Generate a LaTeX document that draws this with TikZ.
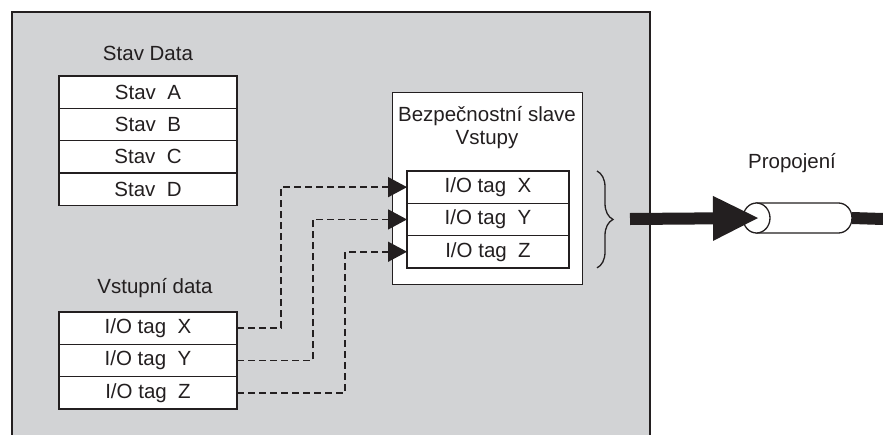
\documentclass[tikz,border=0pt]{standalone}
\usepackage{fontspec}
\setmainfont{Liberation Sans}
\usetikzlibrary{arrows.meta,positioning,shapes.geometric,decorations.pathreplacing}
\definecolor{panelgray}{RGB}{210,211,213}
\definecolor{ink}{RGB}{35,31,32}

\begin{document}
\begin{tikzpicture}[x=1pt, y=-1pt,
          cell/.style={draw=ink, fill=white, line width=1.3pt,
                      minimum width=178pt, minimum height=32.3pt,
                      inner sep=0pt, outer sep=0pt, text=ink,
                      font=\fontsize{20.5}{24}\selectfont},
          tagcell/.style={cell, minimum width=162pt},
          title/.style={text=ink, align=center, inner sep=0pt,
                      font=\fontsize{20.5}{23}\selectfont},
          link/.style={ink, line width=1.5pt, dash pattern=on 7pt off 4pt,
                      -{Triangle[length=19pt, width=20pt]}},
          bigarr/.style={ink, line width=12pt,
                      -{Triangle[length=45pt, width=45pt, line width=0pt]}},
          cable/.style={ink, line width=12pt},
          brace/.style={decorate, decoration={brace, amplitude=16pt},
                      ink, line width=1.3pt},
          plugline/.style={draw=ink, fill=white, line width=1.3pt}
        ]
          \useasboundingbox (0,0) rectangle (883,434);
          \draw[ink, line width=1.5pt, fill=panelgray] (12,12) rectangle (650,460);

          % status table
          \node[title] (stavtitle) at (148,53) {Stav Data};
          \node[cell, anchor=north] (stavA) at (148,76) {Stav~ A};
          \node[cell, below=0pt of stavA] (stavB) {Stav~ B};
          \node[cell, below=0pt of stavB] (stavC) {Stav~ C};
          \node[cell, below=0pt of stavC] (stavD) {Stav~ D};

          % input data table
          \node[title] (intitle) at (155,288) {Vstupní data};
          \node[cell, anchor=north] (inX) at (148,312) {I/O tag~ X};
          \node[cell, below=0pt of inX] (inY) {I/O tag~ Y};
          \node[cell, below=0pt of inY] (inZ) {I/O tag~ Z};

          % safety slave
          \node[draw=ink, fill=white, line width=1.3pt, anchor=north west,
                minimum width=190pt, minimum height=192pt] (slave) at (392,92) {};
          \node[title] (slavetitle) at (487,128) {Bezpečnostní slave\\Vstupy};
          \node[tagcell, anchor=north] (tagX) at (488,171) {I/O tag~ X};
          \node[tagcell, below=0pt of tagX] (tagY) {I/O tag~ Y};
          \node[tagcell, below=0pt of tagY] (tagZ) {I/O tag~ Z};

          \draw[link] (inX.east) -- ++(44,0) |- (tagX.west);
          \draw[link] (inY.east) -- ++(76,0) |- (tagY.west);
          \draw[link] (inZ.east) -- ++(108,0) |- (tagZ.west);

          \draw[brace] ([xshift=28pt]tagX.north east) -- ([xshift=28pt]tagZ.south east);

          % connection
          \node[title] (linktitle) at (792,163) {Propojení};
          \node[inner sep=0pt, outer sep=0pt, minimum width=109pt, minimum height=30pt] (plug) at (797.5,218) {};
          \draw[plugline] ([xshift=13.5pt]plug.north west) -- ([xshift=-13.5pt]plug.north east)
            arc[start angle=90, end angle=-90, x radius=13.5pt, y radius=15pt]
            -- ([xshift=13.5pt]plug.south west) -- cycle;
          \draw[plugline] ([xshift=13.5pt]plug.west) ellipse[x radius=13.5pt, y radius=15pt];
          \coordinate (cablein) at (630,219);
          \coordinate (cableout) at (883,219);
          \draw[cable] (plug.east) -- (cableout);
          \draw[bigarr] (cablein) -- ([xshift=15pt]plug.west);
        \end{tikzpicture}
\end{document}
